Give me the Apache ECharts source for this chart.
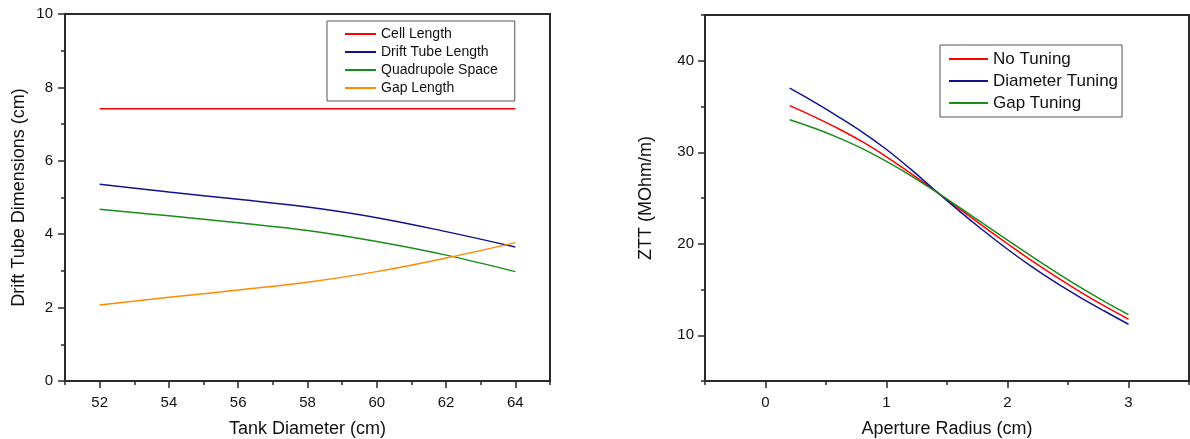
<!DOCTYPE html>
<html>
<head>
<meta charset="utf-8">
<script src="https://cdn.jsdelivr.net/npm/echarts@6/dist/echarts.min.js"></script>
<style>html,body{margin:0;padding:0;background:#fff}#c{width:1190px;height:439px}</style>
</head>
<body>
<div id="c"></div>
<script>
// ---- Left chart data ----
const tankDiameter = [52, 54, 56, 58, 60, 62, 64];
const cellLength = [7.42, 7.42, 7.42, 7.42, 7.42, 7.42, 7.42];
const driftTubeLength = [5.36, 5.15, 4.95, 4.74, 4.45, 4.07, 3.65];
const quadrupoleSpace = [4.68, 4.50, 4.31, 4.10, 3.80, 3.43, 2.98];
const gapLength = [2.07, 2.28, 2.48, 2.69, 2.98, 3.35, 3.77];
const leftXTicks = [52, 54, 56, 58, 60, 62, 64];
const leftYTicks = [0, 2, 4, 6, 8, 10];

// ---- Right chart data ----
const apertureRadius = [0.2, 0.4, 0.6, 0.8, 1.0, 1.2, 1.4, 1.6, 1.8, 2.0, 2.2, 2.4, 2.6, 2.8, 3.0];
const noTuning = [35.1, 33.9, 32.6, 31.15, 29.5, 27.7, 25.8, 23.85, 21.9, 20.0, 18.15, 16.4, 14.75, 13.2, 11.75];
const diameterTuning = [37.0, 35.5, 33.9, 32.2, 30.3, 28.15, 25.85, 23.6, 21.45, 19.4, 17.5, 15.75, 14.15, 12.65, 11.2];
const gapTuning = [33.55, 32.65, 31.6, 30.4, 29.0, 27.45, 25.75, 24.0, 22.2, 20.4, 18.62, 16.9, 15.25, 13.7, 12.25];
const rightXTicks = [0, 1, 2, 3];
const rightYTicks = [10, 20, 30, 40];

const FONT = '"Liberation Sans", Arial, sans-serif';
const AX = '#2a2a2a';
const TXT = '#111';

function zip(xs, ys) { return xs.map((x, i) => [x, ys[i]]); }

function minorAxis(grid, min, max, interval, name, nameGap, isY) {
  return {
    type: 'value', gridIndex: grid, min: min, max: max, interval: interval,
    position: isY ? 'left' : 'bottom',
    name: name, nameLocation: 'middle', nameGap: nameGap,
    nameTextStyle: { fontFamily: FONT, fontSize: 18, color: TXT },
    axisLine: { show: true, onZero: false, lineStyle: { color: AX, width: 2 } },
    axisTick: { show: true, inside: false, length: 4, lineStyle: { color: AX, width: 1.5 } },
    axisLabel: { show: false },
    splitLine: { show: false }
  };
}
function majorAxis(grid, min, max, ticks, margin, isY) {
  return {
    type: 'value', gridIndex: grid, min: min, max: max,
    position: isY ? 'left' : 'bottom',
    axisLine: { show: false, onZero: false },
    axisTick: { show: true, inside: false, length: 7, customValues: ticks, lineStyle: { color: AX, width: 1.5 } },
    axisLabel: { show: true, customValues: ticks, margin: margin, fontFamily: FONT, fontSize: 15, color: TXT },
    splitLine: { show: false }
  };
}
function lineSeries(name, xi, yi, data, color) {
  return {
    name: name, type: 'line', xAxisIndex: xi, yAxisIndex: yi, data: data,
    smooth: 0.4, showSymbol: false, symbol: 'none',
    lineStyle: { color: color, width: 1.5 }, itemStyle: { color: color }
  };
}

const RED = '#ff0000', BLUE = '#12128c', GREEN = '#1a8c1a', ORANGE = '#ff8a00';

const option = {
  animation: false,
  backgroundColor: '#fff',
  grid: [
    { left: 65, top: 14, right: 640, bottom: 58, show: true, borderColor: AX, borderWidth: 2, backgroundColor: 'transparent', containLabel: false, outerBoundsMode: 'none' },
    { left: 705, top: 15, right: 1, bottom: 58, show: true, borderColor: AX, borderWidth: 2, backgroundColor: 'transparent', containLabel: false, outerBoundsMode: 'none' }
  ],
  xAxis: [
    minorAxis(0, 51, 65, 1, 'Tank Diameter (cm)', 39, false),
    majorAxis(0, 51, 65, leftXTicks, 14, false),
    minorAxis(1, -0.5, 3.5, 0.5, 'Aperture Radius (cm)', 39, false),
    majorAxis(1, -0.5, 3.5, rightXTicks, 14, false)
  ],
  yAxis: [
    minorAxis(0, 0, 10, 1, 'Drift Tube Dimensions (cm)', 37, true),
    majorAxis(0, 0, 10, leftYTicks, 12, true),
    minorAxis(1, 5, 45, 5, 'ZTT (MOhm/m)', 50, true),
    majorAxis(1, 5, 45, rightYTicks, 11, true)
  ],
  legend: [
    {
      left: 327, top: 21, orient: 'vertical', icon: 'rect', itemWidth: 31, itemHeight: 2, itemGap: 0,
      padding: [4, 17, 4, 18], borderColor: '#555', borderWidth: 1,
      textStyle: { fontFamily: FONT, fontSize: 14, lineHeight: 18, color: TXT },
      data: ['Cell Length', 'Drift Tube Length', 'Quadrupole Space', 'Gap Length']
    },
    {
      left: 940, top: 45, orient: 'vertical', icon: 'rect', itemWidth: 39, itemHeight: 2, itemGap: 0,
      padding: [3, 4, 3, 9], borderColor: '#555', borderWidth: 1,
      textStyle: { fontFamily: FONT, fontSize: 17, lineHeight: 22, color: TXT },
      data: ['No Tuning', 'Diameter Tuning', 'Gap Tuning']
    }
  ],
  series: [
    lineSeries('Cell Length', 0, 0, zip(tankDiameter, cellLength), RED),
    lineSeries('Drift Tube Length', 0, 0, zip(tankDiameter, driftTubeLength), BLUE),
    lineSeries('Quadrupole Space', 0, 0, zip(tankDiameter, quadrupoleSpace), GREEN),
    lineSeries('Gap Length', 0, 0, zip(tankDiameter, gapLength), ORANGE),
    lineSeries('No Tuning', 2, 2, zip(apertureRadius, noTuning), RED),
    lineSeries('Diameter Tuning', 2, 2, zip(apertureRadius, diameterTuning), BLUE),
    lineSeries('Gap Tuning', 2, 2, zip(apertureRadius, gapTuning), GREEN)
  ]
};

const chart = echarts.init(document.getElementById('c'), null, { renderer: 'canvas' });
chart.setOption(option);
</script>
</body>
</html>
